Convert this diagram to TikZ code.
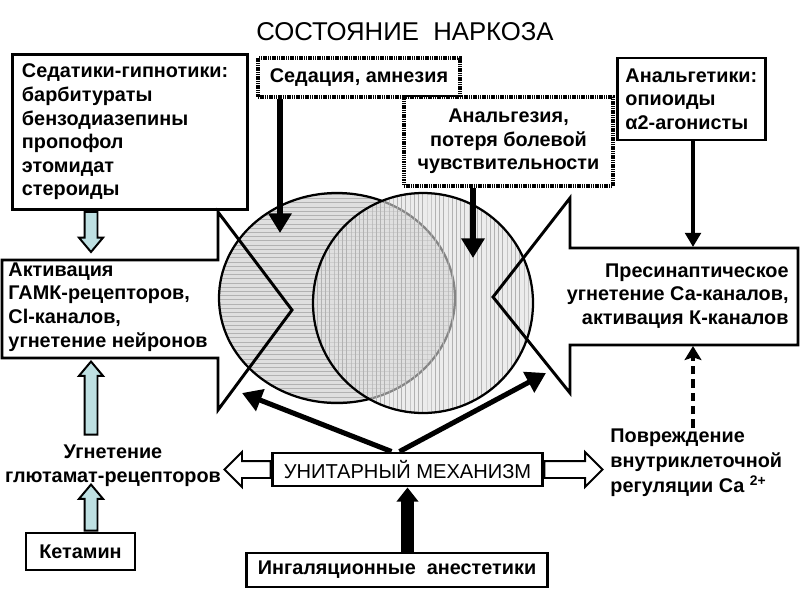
\documentclass[tikz,border=0pt]{standalone}
\usepackage{fontspec}
\setmainfont{Liberation Sans}
\usepackage{tikz}
\usetikzlibrary{arrows.meta, positioning, patterns, shapes.arrows}

\definecolor{paleblue}{RGB}{190,224,226}

\begin{document}
\begin{tikzpicture}[
        x=0.025cm, y=-0.025cm,
        every node/.style={font=\fontsize{14.1}{16.8}\selectfont\bfseries},
        line width=2.1pt,
        >=Stealth,
        box/.style={draw, rectangle, inner sep=0pt},
        dotbox/.style={draw=black, rectangle, dash pattern=on 1pt off 0.6pt, line width=3.2pt, fill=white},
        blackarrow/.style={line width=3.6pt, -{Triangle[length=14pt, width=16pt]}},
        thinarrow/.style={line width=2.8pt, -{Triangle[length=10pt, width=11pt]}},
        fatarrow/.style={line width=9pt, -{Triangle[length=10pt, width=15pt]}},
        dasharrow/.style={line width=2.8pt, dash pattern=on 6pt off 3.5pt, -{Stealth[length=10pt, width=12pt, inset=2pt]}},
        hollowarrow/.style={single arrow, draw, fill=white, line width=1.4pt, inner xsep=0pt, inner ysep=0.1875cm, single arrow head extend=0.225cm},
        bluearrow/.style={single arrow, draw, fill=paleblue, line width=1.4pt, inner xsep=0pt, inner ysep=0.1375cm, single arrow head extend=0.14cm, single arrow tip angle=80}
    ]
    \useasboundingbox (0,0) rectangle (800,600);

    % Title
    \node[font=\fontsize{18.3}{20}\selectfont] (title) at (405,32) {СОСТОЯНИЕ\ \ НАРКОЗА};

    % Ellipses
    \fill[gray!25] (337,298) ellipse [x radius=118, y radius=105];
    \fill[pattern=horizontal lines, pattern color=gray!60] (337,298) ellipse [x radius=118, y radius=105];
    \draw[line width=1.6pt] (337,298) ellipse [x radius=118, y radius=105];
    \fill[gray!25, fill opacity=0.6] (423,303) circle [radius=110];
    \fill[pattern=vertical lines, pattern color=gray!60] (423,303) circle [radius=110];
    \draw[line width=1.6pt] (423,303) circle [radius=110];

    % Callouts
    \draw (2,260) -- (218,260) -- (218,212) -- (292,310) -- (218,410) -- (218,358) -- (2,358) -- cycle;
    \draw (798,248) -- (570,248) -- (570,198) -- (493,297) -- (570,393) -- (570,345) -- (798,345) -- cycle;

    % Boxes
    \node[box, text width=5.4cm, inner xsep=0.225cm, minimum height=3.875cm, align=left] (sedat) at (130,132)
        {Седатики-гипнотики:\\барбитураты\\бензодиазепины\\пропофол\\этомидат\\стероиды};
    \node[box, text width=3.3cm, inner xsep=0.19cm, minimum height=2.05cm, align=left] (anlg) at (691.5,99)
        {Анальгетики:\\опиоиды\\α2-агонисты};
    \node[dotbox, minimum width=5.05cm, minimum height=0.975cm] (sed) at (359,77.5) {Седация, амнезия};
    \node[dotbox, minimum width=5.225cm, minimum height=2.225cm, align=center] (ang) at (508.5,141.5)
        {Анальгезия,\\потеря болевой\\чувствительности};
    \node[box, font=\fontsize{14.3}{17}\selectfont, minimum width=6.725cm, minimum height=0.825cm] (unit) at (407.5,469.5)
        {УНИТАРНЫЙ МЕХАНИЗМ};
    \node[box, minimum width=7.5cm, minimum height=0.85cm] (ing) at (397,570) {Ингаляционные\ \ анестетики};
    \node[box, minimum width=2.725cm, minimum height=0.925cm] (ket) at (80.5,551.5) {Кетамин};

    % Texts
    \node[inner sep=0pt, anchor=west, align=left] (gaba) at (7,307)
        {Активация\\ГАМК-рецепторов,\\Cl-каналов,\\угнетение нейронов};
    \node[inner sep=0pt, anchor=east, align=right] (presyn) at (790,296)
        {Пресинаптическое\\угнетение Са-каналов,\\активация К-каналов};
    \node[inner sep=0pt, align=center] (glut) at (113,466) {Угнетение\\глютамат-рецепторов};
    \node[inner sep=0pt, anchor=west, align=left, font=\fontsize{14.1}{17.7}\selectfont\bfseries] (povr) at (609,463)
        {Повреждение\\внутриклеточной\\регуляции Са \textsuperscript{2+}};

    % Blue arrows
    \node[bluearrow, rotate=-90, minimum height=1.0cm, anchor=tail] (b1) at (sedat.south -| 91,0) {};
    \node[bluearrow, rotate=90, minimum height=1.825cm, anchor=tip] (b2) at (91,360) {};
    \node[bluearrow, rotate=90, minimum height=1.15cm, anchor=tail] (b3) at (ket.north -| 91,0) {};

    % Hollow arrows
    \node[hollowarrow, rotate=180, minimum height=1.15cm, anchor=tail] (hl) at (unit.west) {};
    \node[hollowarrow, minimum height=1.45cm, anchor=tail] (hr) at (unit.east) {};

    % Black arrows
    \coordinate (sedtip) at (280,233);
    \coordinate (angtip) at (473,258);
    \coordinate (rtop) at (693,247);
    \coordinate (rbot) at (693,346);
    \coordinate (ltip) at (242,393);
    \coordinate (rtip) at (546,373);
    \draw[blackarrow] (sed.south -| sedtip) -- (sedtip);
    \draw[blackarrow] (ang.south -| angtip) -- (angtip);
    \draw[thinarrow] (anlg.south -| rtop) -- (rtop);
    \draw[blackarrow] ([xshift=-0.4cm]unit.north) -- (ltip);
    \draw[blackarrow] ([xshift=-0.2cm]unit.north) -- (rtip);
    \draw[fatarrow] (ing.north -| unit.south) -- (unit.south);
    \draw[dasharrow] (povr.north -| rbot) -- (rbot);

\end{tikzpicture}
\end{document}
